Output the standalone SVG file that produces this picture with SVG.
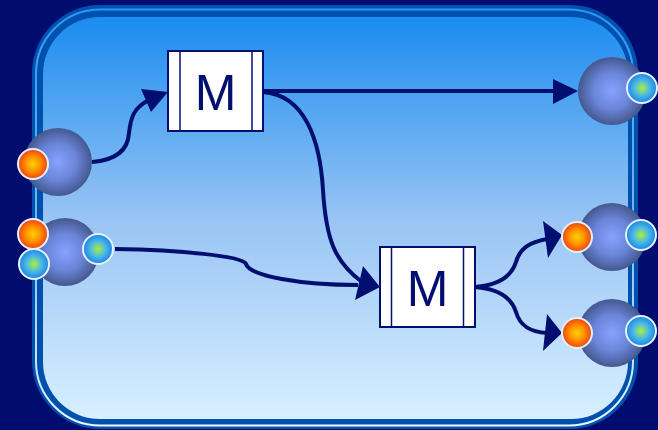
<svg xmlns="http://www.w3.org/2000/svg" width="658" height="430" viewBox="0 0 658 430">
<defs>
<linearGradient id="fillG" x1="0" y1="0" x2="0" y2="1">
<stop offset="0" stop-color="#1a8cf0"/>
<stop offset="0.5" stop-color="#98c4f4"/>
<stop offset="1" stop-color="#d8f0ff"/>
</linearGradient>
<linearGradient id="lineG" x1="0" y1="0" x2="0" y2="1">
<stop offset="0" stop-color="#2a98f0"/>
<stop offset="0.5" stop-color="#70b8f0"/>
<stop offset="1" stop-color="#f0f8ff"/>
</linearGradient>
<radialGradient id="sphereG" cx="0.5" cy="0.5" r="0.5">
<stop offset="0" stop-color="#84a4ff"/>
<stop offset="0.55" stop-color="#6a84d8"/>
<stop offset="1" stop-color="#44588e"/>
</radialGradient>
<radialGradient id="inG" cx="0.5" cy="0.5" r="0.5">
<stop offset="0" stop-color="#ffd400"/>
<stop offset="0.55" stop-color="#ff8a00"/>
<stop offset="1" stop-color="#f24010"/>
</radialGradient>
<radialGradient id="outG" cx="0.5" cy="0.5" r="0.5">
<stop offset="0" stop-color="#a8f040"/>
<stop offset="0.55" stop-color="#48b4e8"/>
<stop offset="1" stop-color="#1a84e4"/>
</radialGradient>
</defs>
<style>
.sphere{fill:url(#sphereG)}
.pin{fill:url(#inG);stroke:#e4f2ff;stroke-width:2}
.pout{fill:url(#outG);stroke:#e4f2ff;stroke-width:2}
.box{fill:#ffffff;stroke:#000e70;stroke-width:2}
.bar{stroke:#000e70;stroke-width:1.5}
.lbl{font-family:"Liberation Sans",Arial,sans-serif;font-size:50px;fill:#001070;text-anchor:middle}
.wire{fill:none;stroke:#000e70;stroke-width:4}
.head{fill:#000e70}
</style>
<rect width="658" height="430" fill="#000c6e"/>
<g id="frame">
<rect x="32" y="5" width="606" height="424" rx="68" fill="#0050b0"/>
<rect x="36" y="9.5" width="597" height="416" rx="64" fill="none" stroke="url(#lineG)" stroke-width="2"/>
<rect x="43" y="17" width="585" height="402" rx="57" fill="url(#fillG)"/>
</g>
<g id="connectors">
<path class="wire" d="M92,162 C118,160 128,148 129,133 C131,115 135,108 147,101"/>
<polygon class="head" points="168,92 141,89 151,112"/>
<path class="wire" d="M263,91 L555,91"/>
<polygon class="head" points="578,91 553,79 553,104"/>
<path class="wire" d="M263,92 C305,95 320,140 323,190 C326,240 335,262 362,282"/>
<path class="wire" d="M115,249 C180,250 242,256 246,264 C250,276 300,285 358,285"/>
<polygon class="head" points="380,287 363,266 355,300"/>
<path class="wire" d="M475,287 C500,285 512,275 516,262 C520,248 530,242 547,239"/>
<polygon class="head" points="562,235 543,221 548,258"/>
<path class="wire" d="M475,287 C500,289 512,299 516,312 C520,326 530,332 547,333"/>
<polygon class="head" points="562,333 547,314 543,351"/>
</g>
<g id="m1">
<rect class="box" x="168" y="51" width="95" height="80"/>
<line class="bar" x1="180" y1="51" x2="180" y2="131"/>
<line class="bar" x1="252" y1="51" x2="252" y2="131"/>
<text class="lbl" x="215.5" y="110">M</text>
</g>
<g id="m2">
<rect class="box" x="380" y="247" width="95" height="80"/>
<line class="bar" x1="391.5" y1="247" x2="391.5" y2="327"/>
<line class="bar" x1="463.5" y1="247" x2="463.5" y2="327"/>
<text class="lbl" x="427.5" y="306">M</text>
</g>
<g id="source1">
<circle class="sphere" cx="58" cy="162" r="34"/>
<circle class="pin" cx="33" cy="164" r="15"/>
</g>
<g id="source2">
<circle class="sphere" cx="65" cy="252" r="34"/>
<circle class="pin" cx="33" cy="234" r="15"/>
<circle class="pout" cx="34" cy="264" r="15"/>
<circle class="pout" cx="98" cy="249" r="15"/>
</g>
<g id="sink1">
<circle class="sphere" cx="612" cy="91" r="34"/>
<circle class="pout" cx="642" cy="88" r="15"/>
</g>
<g id="sink2">
<circle class="sphere" cx="612" cy="237" r="34"/>
<circle class="pin" cx="577" cy="237" r="15"/>
<circle class="pout" cx="641" cy="235" r="15"/>
</g>
<g id="sink3">
<circle class="sphere" cx="612" cy="333" r="34"/>
<circle class="pin" cx="577" cy="333" r="15"/>
<circle class="pout" cx="641" cy="331" r="15"/>
</g>
</svg>
